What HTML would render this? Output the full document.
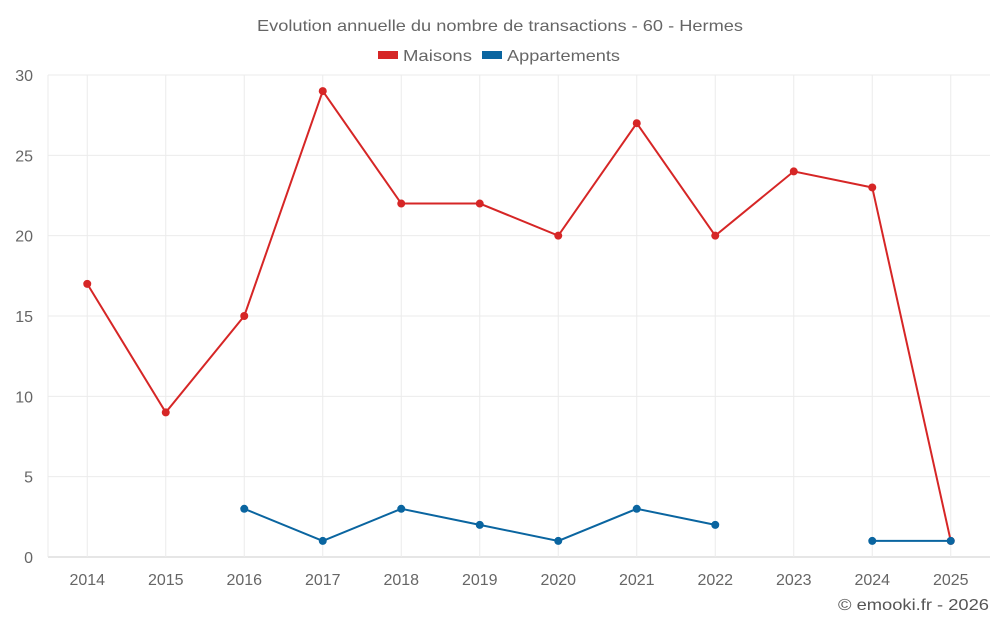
<!DOCTYPE html>
<html><head><meta charset="utf-8"><style>
html,body{margin:0;padding:0;background:#fff;width:1000px;height:625px;overflow:hidden;font-family:"Liberation Sans",sans-serif;}
</style></head><body>
<svg id="chart" width="1000" height="625" xmlns="http://www.w3.org/2000/svg">
<text x="257" y="31" textLength="486" lengthAdjust="spacingAndGlyphs" font-size="16" fill="#666">Evolution annuelle du nombre de transactions - 60 - Hermes</text>
<g>
<g><rect x="378" y="51" width="20" height="8" fill="#d62626"/><text x="403" y="61" textLength="69" lengthAdjust="spacingAndGlyphs" font-size="16" fill="#666">Maisons</text></g>
<g><rect x="482" y="51" width="20" height="8" fill="#0a65a0"/><text x="507" y="61" textLength="113" lengthAdjust="spacingAndGlyphs" font-size="16" fill="#666">Appartements</text></g>
</g>
<g id="grid"></g><g id="axes"></g><g id="series"></g>
<text x="838" y="610" textLength="151" lengthAdjust="spacingAndGlyphs" font-size="16" fill="#555">© emooki.fr - 2026</text>
</svg>
<script>
const categories=["2014","2015","2016","2017","2018","2019","2020","2021","2022","2023","2024","2025"];
const maisons=[17,9,15,29,22,22,20,27,20,24,23,1];
const appartements=[null,null,3,1,3,2,1,3,2,null,1,1];
const yTicks=[0,5,10,15,20,25,30];
const NS="http://www.w3.org/2000/svg";
const L=48,R=990,T=75,B=557,ymax=30;
const bw=(R-L)/categories.length;
const x=i=>L+bw*(i+0.5);
const y=v=>B-(B-T)*v/ymax;
function mk(p,tag,attrs){const e=document.createElementNS(NS,tag);for(const k in attrs)e.setAttribute(k,attrs[k]);p.appendChild(e);return e;}
const grid=document.getElementById('grid'),axes=document.getElementById('axes'),ser=document.getElementById('series');
yTicks.forEach(t=>{
 const l=mk(grid,'line',{x1:L,x2:R,y1:y(t),y2:y(t),stroke:t===0?'#ccc':'#ebebeb','stroke-width':1});
 
 
 const tx=mk(axes,'text',{x:33,y:y(t)+6,'text-anchor':'end','font-size':16,fill:'#666'});tx.textContent=t;
 
 
});
mk(grid,'line',{x1:L,x2:L,y1:T,y2:B,stroke:'#ebebeb'});
categories.forEach((c,i)=>{
 const l=mk(grid,'line',{x1:x(i),x2:x(i),y1:T,y2:B,stroke:'#ebebeb'});
 
 
 const tx=mk(axes,'text',{x:x(i),y:585,'text-anchor':'middle','font-size':16,fill:'#666'});tx.textContent=c;
 
 
});
function draw(vals,color,name){
 let d='',pen=false;
 vals.forEach((v,i)=>{if(v===null){pen=false;return;}d+=(pen?'L':'M')+x(i)+','+y(v)+' ';pen=true;});
 const p=mk(ser,'path',{d:d,fill:'none',stroke:color,'stroke-width':2});
 
 
 vals.forEach((v,i)=>{if(v===null)return;
  const c=mk(ser,'circle',{cx:x(i),cy:y(v),r:4,fill:color});
  
  
 });
}
draw(maisons,'#d62626','maisons');
draw(appartements,'#0a65a0','appartements');
</script>
</body></html>
